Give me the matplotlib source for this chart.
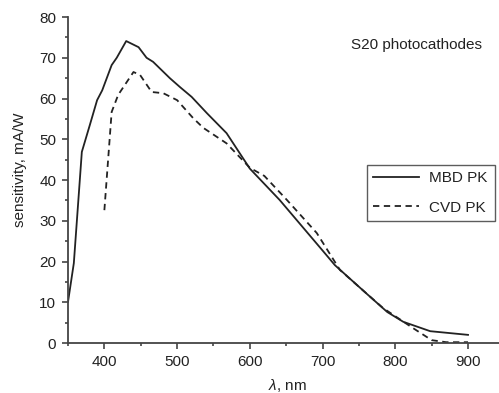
import matplotlib
matplotlib.use("Agg")
import matplotlib.pyplot as plt
from matplotlib.ticker import MultipleLocator

plt.rcParams['font.family'] = ['Liberation Sans', 'DejaVu Sans']
plt.rcParams['mathtext.fontset'] = 'custom'
plt.rcParams['mathtext.it'] = 'Liberation Sans:italic'
plt.rcParams['mathtext.rm'] = 'Liberation Sans'

mbd_x = [350, 358, 369, 380, 390, 397, 410, 417, 430, 447, 458, 467, 490, 504, 520,
         541, 568, 600, 641, 700, 717, 760, 789, 811, 848, 900]
mbd_y = [10.1, 19.6, 46.9, 53.5, 59.6, 62.0, 68.2, 70.0, 74.1, 72.6, 70.0, 69.0, 65.0,
         62.8, 60.4, 56.4, 51.5, 42.8, 35.1, 22.7, 19.1, 12.2, 7.6, 5.2, 2.9, 2.0]

cvd_x = [400, 410, 419, 440, 449, 465, 481, 500, 522, 536, 568, 600, 620, 651,
         692, 724, 783, 824, 850, 870, 900]
cvd_y = [32.6, 56.7, 60.9, 66.5, 65.8, 61.6, 61.3, 59.6, 55.2, 52.8, 49.0, 43.0,
         41.0, 35.1, 27.0, 17.9, 8.6, 3.7, 0.7, 0.2, 0.2]

labels = ["MBD PK", "CVD PK"]
title_text = "S20 photocathodes"
xlabel = r"$\lambda$, nm"
ylabel = "sensitivity, mA/W"

fig = plt.figure(figsize=(4.99, 3.93), dpi=100)
ax = fig.add_axes([0.1363, 0.1272, 0.8637, 0.8295])

c = "#222222"
ax.plot(mbd_x, mbd_y, color=c, lw=1.3, label=labels[0])
ax.plot(cvd_x, cvd_y, color=c, lw=1.3, linestyle=(0, (3.5, 2.5)), label=labels[1])

ax.set_xlim(350, 942.6)
ax.set_ylim(0, 80)
ax.xaxis.set_major_locator(MultipleLocator(100))
ax.xaxis.set_minor_locator(MultipleLocator(50))
ax.yaxis.set_major_locator(MultipleLocator(10))
ax.yaxis.set_minor_locator(MultipleLocator(5))

for s in ["top", "right"]:
    ax.spines[s].set_visible(False)
for s in ["left", "bottom"]:
    ax.spines[s].set_color("#444444")
    ax.spines[s].set_linewidth(1.3)

ax.tick_params(which="major", direction="out", length=4.5, width=1.2, color="#444444",
               labelsize=11, labelcolor="#222222", pad=4)
ax.tick_params(which="minor", direction="out", length=2.5, width=1.2, color="#444444")
ax.set_xticks([400, 500, 600, 700, 800, 900])

ax.set_xlabel(xlabel, fontsize=11, color="#222222")
ax.set_ylabel(ylabel, fontsize=11, color="#222222")
ax.xaxis.set_label_coords(0.508, -0.105)
ax.yaxis.set_label_coords(-0.096, 0.53)

ax.text(829, 73.1, title_text, fontsize=11, color="#222222", ha="center", va="center")

leg = ax.legend(loc="center left", bbox_to_anchor=(0.694, 0.371, 0.297, 0.178),
                mode="expand", fontsize=11,
                frameon=True, fancybox=False, handlelength=3.0, borderpad=0.4,
                labelspacing=1.0, handletextpad=0.65, borderaxespad=0)
leg.get_frame().set_edgecolor("#333333")
leg.get_frame().set_linewidth(1.0)
for t in leg.get_texts():
    t.set_color("#222222")

fig.savefig("out.png", dpi=100)
